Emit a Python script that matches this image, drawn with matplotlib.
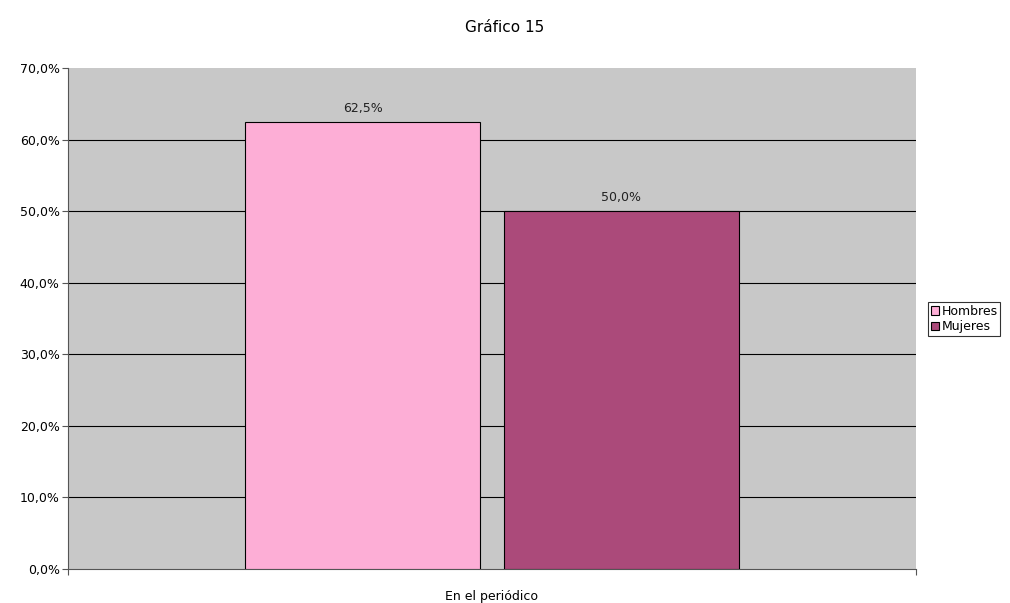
import numpy as np
import matplotlib.pyplot as plt

# Data
categories = ['En el periódico']
series = ['Hombres', 'Mujeres']
values = [62.5, 50.0]
colors = ['#FDAED6', '#AB4A7A']
yticks = [0, 10, 20, 30, 40, 50, 60, 70]

fig = plt.figure(figsize=(10.1, 6.03), dpi=100)
ax = fig.add_axes([68 / 1010, 1 - 569 / 603, 848 / 1010, 501 / 603])
ax.set_facecolor('#C8C8C8')

width = 0.277
offsets = [-0.1525, 0.1525]
for i in range(len(series)):
    ax.bar(0 + offsets[i], values[i], width, color=colors[i],
           edgecolor='black', linewidth=0.8, label=series[i], zorder=3)
    ax.text(0 + offsets[i], values[i] + 1.0, f'{values[i]:.1f}%'.replace('.', ','),
            ha='center', va='bottom', fontsize=9, color='#222222')

ax.set_xlim(-0.5, 0.5)
ax.set_ylim(0, 70)
ax.set_yticks(yticks)
ax.set_yticklabels([f'{t:.1f}%'.replace('.', ',') for t in yticks], fontsize=9)
# gridlines only inside the plot area (none on top edge)
ax.hlines(yticks[1:-1], -0.5, 0.5, color='black', linewidth=0.8, zorder=1)
ax.set_xticks([-0.5, 0.5])
ax.set_xticklabels(['', ''])
ax.tick_params(axis='x', length=4, direction='out', color='#555555')
ax.tick_params(axis='y', length=4, direction='out', color='#555555', pad=2)
ax.text(0, -3.8, categories[0], ha='center', va='center', fontsize=9)

for s in ['top', 'right']:
    ax.spines[s].set_visible(False)
for s in ['left', 'bottom']:
    ax.spines[s].set_color('#555555')

fig.text(0.5, 1 - 27 / 603, 'Gráfico 15', ha='center', va='center', fontsize=11)

leg = fig.legend(loc='center left', bbox_to_anchor=(928 / 1010, 1 - 319 / 603),
                 fontsize=9, frameon=True, fancybox=False, edgecolor='black',
                 handlelength=0.7, handleheight=0.7, handletextpad=0.2,
                 borderpad=0.2, labelspacing=0.2, borderaxespad=0)
leg.get_frame().set_linewidth(0.8)

fig.savefig('out.png', dpi=100)
